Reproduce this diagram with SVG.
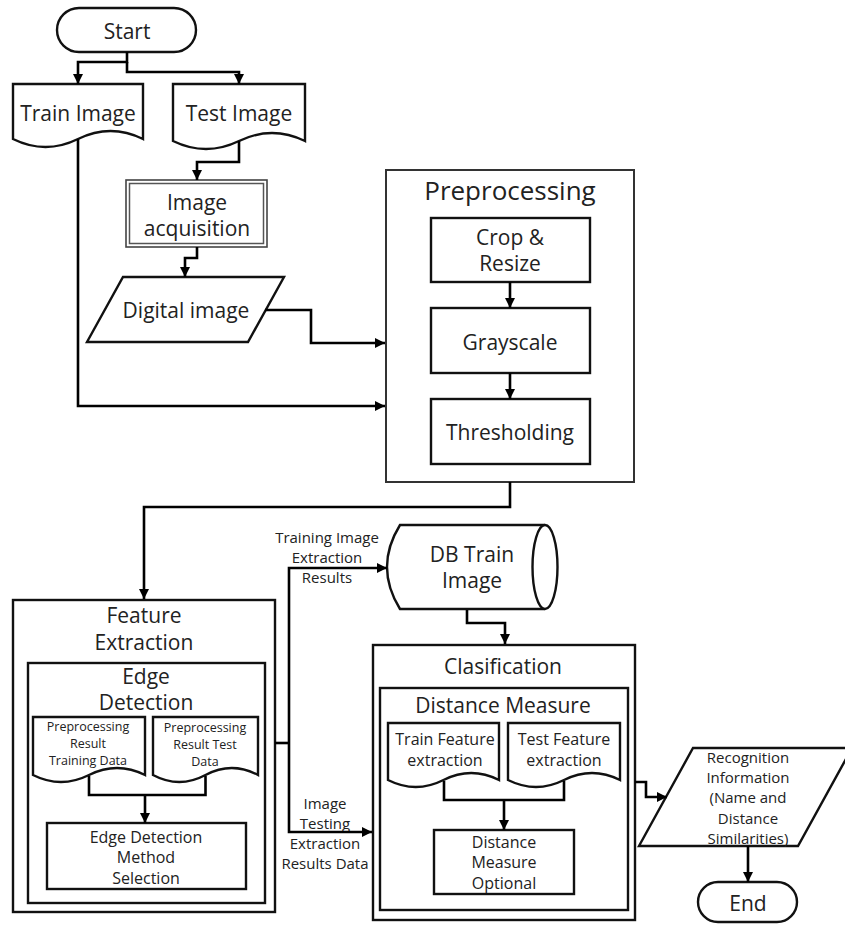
<svg xmlns="http://www.w3.org/2000/svg" width="845" height="925" viewBox="0 0 845 925">
<defs>
<marker id="ah" markerUnits="userSpaceOnUse" markerWidth="11" markerHeight="11" refX="10" refY="5" orient="auto">
<path d="M0,0 L10,5 L0,10 Z" fill="#000"/>
</marker>
<style>
.s{fill:#fff;stroke:#111;stroke-width:2.4}
.g{fill:#fff;stroke:#333;stroke-width:2}
.d{fill:none;stroke:#555;stroke-width:1.5}
.c{fill:none;stroke:#000;stroke-width:2.6;marker-end:url(#ah)}
.n{fill:none;stroke:#000;stroke-width:2.6}
text{font-family:"Open Sans","Noto Sans","DejaVu Sans",sans-serif;fill:#222;text-anchor:middle;dominant-baseline:central}
.t21{font-size:21px}
.t26{font-size:26px}
.t17{font-size:16px}
.t16{font-size:15px}
.t13{font-size:12.5px}
</style>
</defs>
<rect width="845" height="925" fill="#fff"/>

<g id="start">
<rect class="s" x="57" y="8" width="139" height="44" rx="22"/>
<text class="t21" x="127" y="31">Start</text>
</g>

<g id="train-image">
<path class="s" d="M13,84 H143 V139 Q110.5,123 78,139 T13,139 Z"/>
<text class="t21" x="78" y="113">Train Image</text>
</g>

<g id="test-image">
<path class="s" d="M173,84 H305 V141 Q272,125 239,141 T173,141 Z"/>
<text class="t21" x="239" y="113">Test Image</text>
</g>

<g id="image-acquisition">
<rect x="126" y="180" width="141" height="67" fill="#fff" stroke="#444" stroke-width="1.6"/>
<rect class="d" x="129.5" y="183.5" width="134" height="60"/>
<text class="t21" x="197" y="202">Image</text>
<text class="t21" x="197" y="228">acquisition</text>
</g>

<g id="digital-image">
<polygon class="s" points="123,277 284,277 248,342 87,342"/>
<text class="t21" x="186" y="310">Digital image</text>
</g>

<g id="preprocessing">
<rect class="g" x="386" y="170" width="248" height="312"/>
<text class="t26" x="510" y="190">Preprocessing</text>
<g id="crop-resize">
<rect class="s" x="431" y="218" width="159" height="64"/>
<text class="t21" x="510" y="236.5">Crop &amp;</text>
<text class="t21" x="510" y="262.5">Resize</text>
</g>
<g id="grayscale">
<rect class="s" x="431" y="308" width="159" height="65"/>
<text class="t21" x="510" y="342">Grayscale</text>
</g>
<g id="thresholding">
<rect class="s" x="431" y="399" width="159" height="65"/>
<text class="t21" x="510" y="432">Thresholding</text>
</g>
</g>

<g id="feature-extraction">
<rect class="s" x="13" y="600" width="262" height="312"/>
<text class="t21" x="144" y="615">Feature</text>
<text class="t21" x="144" y="642">Extraction</text>
<g id="edge-detection">
<rect class="s" x="28" y="663" width="237" height="240"/>
<text class="t21" x="146" y="676">Edge</text>
<text class="t21" x="146" y="702">Detection</text>
<g id="prep-train">
<path class="s" d="M33,717 H145 V775 Q117,761 89,775 T33,775 Z"/>
<text class="t13" x="88" y="726">Preprocessing</text>
<text class="t13" x="88" y="743">Result</text>
<text class="t13" x="88" y="760">Training Data</text>
</g>
<g id="prep-test">
<path class="s" d="M153,717 H258 V775 Q231.75,761 205.5,775 T153,775 Z"/>
<text class="t13" x="205" y="727">Preprocessing</text>
<text class="t13" x="205" y="744">Result Test</text>
<text class="t13" x="205" y="761">Data</text>
</g>
<g id="edge-method">
<rect class="s" x="47" y="823" width="199" height="66"/>
<text class="t17" x="146" y="837">Edge Detection</text>
<text class="t17" x="146" y="857">Method</text>
<text class="t17" x="146" y="878">Selection</text>
</g>
</g>
</g>

<g id="labels">
<text class="t16" x="327" y="537">Training Image</text>
<text class="t16" x="327" y="557">Extraction</text>
<text class="t16" x="327" y="577">Results</text>
<text class="t16" x="325" y="803">Image</text>
<text class="t16" x="325" y="823">Testing</text>
<text class="t16" x="325" y="843">Extraction</text>
<text class="t16" x="325" y="863">Results Data</text>
</g>

<g id="db-train-image">
<path class="s" d="M545,525 H400 Q374,567 400,609 H545"/>
<ellipse class="s" cx="545" cy="567" rx="12.5" ry="42"/>
<text class="t21" x="472" y="554">DB Train</text>
<text class="t21" x="472" y="580">Image</text>
</g>

<g id="clasification">
<rect class="s" x="373" y="645" width="262" height="275"/>
<text class="t21" x="503" y="666">Clasification</text>
<g id="distance-measure">
<rect class="s" x="380" y="688" width="248" height="222"/>
<text class="t21" x="503" y="705">Distance Measure</text>
<g id="train-feature">
<path class="s" d="M388,723 H499 V780 Q471.25,766 443.5,780 T388,780 Z"/>
<text class="t17" x="445" y="739">Train Feature</text>
<text class="t17" x="445" y="760">extraction</text>
</g>
<g id="test-feature">
<path class="s" d="M508,723 H620 V780 Q592,766 564,780 T508,780 Z"/>
<text class="t17" x="564" y="739">Test Feature</text>
<text class="t17" x="564" y="760">extraction</text>
</g>
<g id="distance-optional">
<rect class="s" x="434" y="830" width="140" height="64"/>
<text class="t17" x="504" y="842">Distance</text>
<text class="t17" x="504" y="862">Measure</text>
<text class="t17" x="504" y="883">Optional</text>
</g>
</g>
</g>

<g id="recognition-information">
<polygon class="s" points="693,748 852,748 798,846 639,846"/>
<text class="t16" x="748" y="757">Recognition</text>
<text class="t16" x="748" y="777">Information</text>
<text class="t16" x="748" y="797">(Name and</text>
<text class="t16" x="748" y="818">Distance</text>
<text class="t16" x="748" y="838">Similarities)</text>
</g>

<g id="end">
<rect class="s" x="698" y="882" width="99" height="40" rx="20"/>
<text class="t21" x="748" y="903">End</text>
</g>

<g id="connectors">
<path class="c" d="M127,52 V62 H78 V84"/>
<path class="c" d="M127,62 V72 H239 V84"/>
<path class="c" d="M239,141 V162 H197 V180"/>
<path class="c" d="M197,247 V258 H185 V277"/>
<path class="c" d="M265,310 H311 V343 H385"/>
<path class="c" d="M78,139 V406 H385"/>
<path class="c" d="M510,282 V308"/>
<path class="c" d="M510,373 V399"/>
<path class="c" d="M510,482 V507 H144 V599"/>
<path class="n" d="M275,743 H289"/>
<path class="c" d="M289,743 V568 H387"/>
<path class="c" d="M289,743 V832 H372"/>
<path class="c" d="M467,610 V623 H505 V644"/>
<path class="c" d="M635,782 H646 V797 H667"/>
<path class="c" d="M748,846 V882"/>
<path class="n" d="M89,776 V795 H205.5 V776"/>
<path class="c" d="M145,795 V823"/>
<path class="n" d="M444,781 V800 H564 V781"/>
<path class="c" d="M504,800 V830"/>
</g>
</svg>
